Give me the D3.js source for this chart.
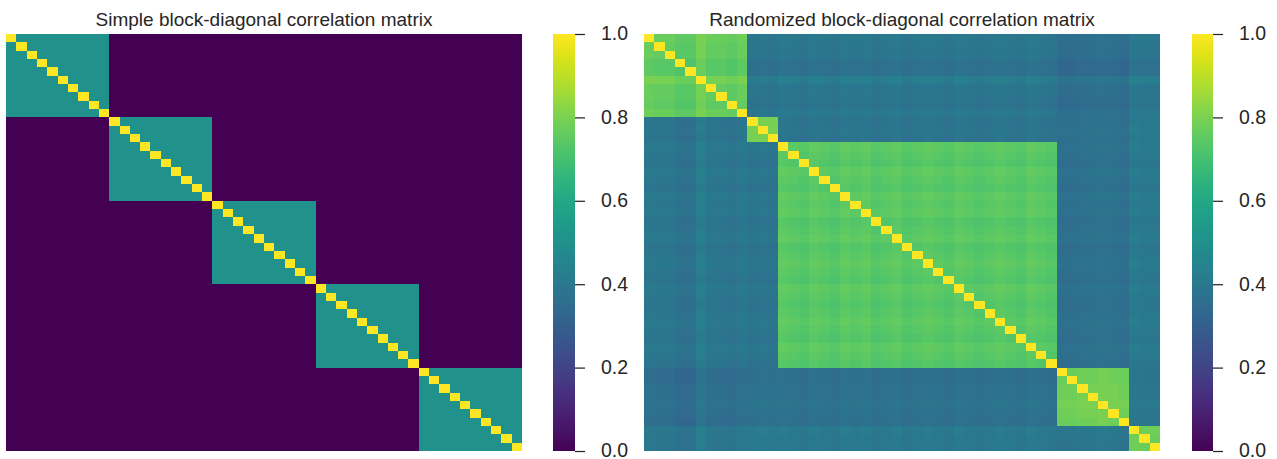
<!DOCTYPE html>
<html>
<head>
<meta charset="utf-8">
<script src="https://cdn.jsdelivr.net/npm/d3@7"></script>
<style>
  html, body { margin: 0; padding: 0; background: #fff; }
  svg text { font-family: "Liberation Sans", Arial, sans-serif; fill: #262626; }
</style>
</head>
<body>
<svg id="chart" width="1277" height="459"></svg>
<script>
// ---------------- data ----------------
const titles = ["Simple block-diagonal correlation matrix", "Randomized block-diagonal correlation matrix"];
const colorbarTicks = [0.0, 0.2, 0.4, 0.6, 0.8, 1.0];

// Simple matrix: 5 equal blocks of 10 variables
const simpleBlockSizes = [10, 10, 10, 10, 10];
const simpleWithin = 0.5;
const simpleBetween = 0.0;

// Randomized matrix: unequal blocks
const randBlockSizes = [10, 3, 27, 7, 3];
const randBlockLevels = [
  [0.76, 0.38, 0.39, 0.36, 0.39],
  [0.38, 0.79, 0.38, 0.37, 0.40],
  [0.39, 0.38, 0.74, 0.37, 0.40],
  [0.36, 0.37, 0.37, 0.79, 0.39],
  [0.39, 0.40, 0.40, 0.39, 0.77]
];
// per-variable deviations (visible stripes)
const randVarOffsets = [
  0.01, 0.00, 0.00, -0.02, -0.02, 0.03, 0.00, 0.00, -0.01, 0.01,
  0.00, 0.01, 0.00,
  0.01, 0.00, -0.01, 0.01, 0.00, -0.01, 0.01, 0.00, 0.01, -0.01,
  0.00, 0.01, -0.01, 0.00, 0.01, 0.00, -0.01, 0.01, 0.00, -0.01,
  0.00, 0.01, 0.00, -0.01, 0.01, 0.00, -0.01,
  -0.01, -0.01, 0.00, 0.00, 0.01, 0.00, -0.01,
  0.01, 0.00, 0.00
];

// ---------------- build matrices ----------------
function blockIndex(sizes) {
  const idx = [];
  sizes.forEach((s, b) => { for (let k = 0; k < s; k++) idx.push(b); });
  return idx;
}
function simpleMatrix() {
  const bi = blockIndex(simpleBlockSizes);
  const n = bi.length, cells = [];
  for (let i = 0; i < n; i++) for (let j = 0; j < n; j++) {
    const v = i === j ? 1 : (bi[i] === bi[j] ? simpleWithin : simpleBetween);
    cells.push({ i, j, v });
  }
  return { n, cells };
}
function randMatrix() {
  const bi = blockIndex(randBlockSizes);
  const n = bi.length, cells = [];
  for (let i = 0; i < n; i++) for (let j = 0; j < n; j++) {
    const v = i === j ? 1 : randBlockLevels[bi[i]][bi[j]] + randVarOffsets[i] + randVarOffsets[j];
    cells.push({ i, j, v });
  }
  return { n, cells };
}

// ---------------- drawing ----------------
const svg = d3.select("#chart");
const color = d3.scaleSequential(d3.interpolateViridis).domain([0, 1]);

const defs = svg.append("defs");
const grad = defs.append("linearGradient").attr("id", "viridisGrad")
  .attr("x1", 0).attr("y1", 1).attr("x2", 0).attr("y2", 0);
d3.range(0, 1.0001, 0.02).forEach(t => {
  grad.append("stop").attr("offset", t).attr("stop-color", color(t));
});

const panels = [
  { m: simpleMatrix(), x0: 6, x1: 522, cb0: 553, cb1: 575, title: titles[0] },
  { m: randMatrix(), x0: 644, x1: 1160, cb0: 1192, cb1: 1213, title: titles[1] }
];
const y0 = 34, y1 = 451;

panels.forEach(p => {
  const g = svg.append("g");
  const idx = d3.range(p.m.n);
  const x = d3.scaleBand().domain(idx).range([p.x0, p.x1]);
  const y = d3.scaleBand().domain(idx).range([y0, y1]);
  g.selectAll("rect.cell").data(p.m.cells).join("rect")
    .attr("class", "cell")
    .attr("shape-rendering", "crispEdges")
    .attr("x", d => Math.round(x(d.j)))
    .attr("y", d => Math.round(y(d.i)))
    .attr("width", d => Math.round(x(d.j) + x.bandwidth()) - Math.round(x(d.j)))
    .attr("height", d => Math.round(y(d.i) + y.bandwidth()) - Math.round(y(d.i)))
    .attr("fill", d => color(d.v));

  g.append("text")
    .attr("x", (p.x0 + p.x1) / 2)
    .attr("y", 26)
    .attr("text-anchor", "middle")
    .style("font-size", "19px")
    .text(p.title);

  // colorbar
  const cy = d3.scaleLinear().domain([0, 1]).range([y1, y0]);
  g.append("rect")
    .attr("x", p.cb0).attr("y", y0)
    .attr("width", p.cb1 - p.cb0).attr("height", y1 - y0)
    .attr("fill", "url(#viridisGrad)");
  const ax = g.append("g")
    .attr("transform", `translate(${p.cb1},0)`)
    .call(d3.axisRight(cy).tickValues(colorbarTicks).tickFormat(d3.format(".1f"))
      .tickSize(10).tickPadding(16));
  ax.select(".domain").remove();
  ax.selectAll(".tick line").attr("stroke", "#262626").attr("stroke-width", 1.25);
  ax.selectAll(".tick text").style("font-size", "19.5px").attr("fill", "#262626")
    .attr("dy", "0.3em")
    .style("font-family", '"Liberation Sans", Arial, sans-serif');
});
</script>
</body>
</html>
